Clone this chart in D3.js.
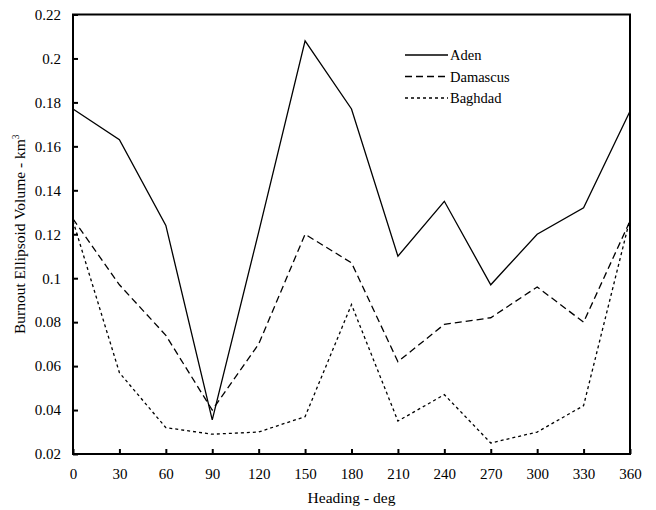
<!DOCTYPE html>
<html>
<head>
<meta charset="utf-8">
<script src="https://cdn.jsdelivr.net/npm/d3@7"></script>
<style>
  body { margin: 0; background: #fff; }
  svg text { font-family: "Liberation Serif", "DejaVu Serif", serif; fill: #000; }
</style>
</head>
<body>
<div id="chart-container"></div>
<script>
// Data
const headings = [0, 30, 60, 90, 120, 150, 180, 210, 240, 270, 300, 330, 360];
const aden     = [0.177, 0.163, 0.124, 0.0355, 0.121, 0.208, 0.177, 0.110, 0.135, 0.097, 0.120, 0.132, 0.176];
const damascus = [0.127, 0.097, 0.074, 0.040, 0.070, 0.120, 0.107, 0.062, 0.079, 0.082, 0.096, 0.080, 0.126];
const baghdad  = [0.126, 0.057, 0.032, 0.029, 0.030, 0.037, 0.088, 0.035, 0.047, 0.025, 0.030, 0.042, 0.127];
const xTicks = [0, 30, 60, 90, 120, 150, 180, 210, 240, 270, 300, 330, 360];
const yTicks = [0.02, 0.04, 0.06, 0.08, 0.1, 0.12, 0.14, 0.16, 0.18, 0.2, 0.22];
const seriesNames = ["Aden", "Damascus", "Baghdad"];

const W = 656, H = 510;
const margin = {top: 14.5, right: 26, bottom: 56, left: 73};
const width = W - margin.left - margin.right;
const height = H - margin.top - margin.bottom;

const svg = d3.select("#chart-container")
  .append("svg")
    .attr("width", W)
    .attr("height", H)
  .append("g")
    .attr("transform", `translate(${margin.left},${margin.top})`);

const x = d3.scaleLinear().domain([0, 360]).range([0, width]);
const y = d3.scaleLinear().domain([0.02, 0.22]).range([height, 0]);

// dash style for each series
const dashes = { "Aden": null, "Damascus": "7,4", "Baghdad": "3,3" };
const series = [
  {name: "Aden", values: aden},
  {name: "Damascus", values: damascus},
  {name: "Baghdad", values: baghdad}
];

const line = d3.line()
  .x((d, i) => x(headings[i]))
  .y(d => y(d));

series.forEach(s => {
  svg.append("path")
    .datum(s.values)
    .attr("fill", "none")
    .attr("stroke", "#000")
    .attr("stroke-width", 1.3)
    .attr("stroke-dasharray", dashes[s.name])
    .attr("d", line);
});

// frame
svg.append("rect")
  .attr("x", 0).attr("y", 0)
  .attr("width", width).attr("height", height)
  .attr("fill", "none")
  .attr("stroke", "#000")
  .attr("stroke-width", 2);

// axes with inward ticks
const xAxis = svg.append("g")
  .attr("transform", `translate(0,${height})`)
  .call(d3.axisBottom(x).tickValues(xTicks).tickSize(-5).tickPadding(14).tickFormat(d3.format("d")));
const yAxis = svg.append("g")
  .call(d3.axisLeft(y).tickValues(yTicks).tickSize(-5).tickPadding(12).tickFormat(d => String(+d.toFixed(2))));

[xAxis, yAxis].forEach(a => {
  a.select(".domain").remove();
  a.selectAll(".tick line").attr("stroke", "#000").attr("stroke-width", 2);
  a.selectAll(".tick text").attr("font-size", 15).attr("font-family", "Liberation Serif");
});

// axis titles
svg.append("text")
  .attr("text-anchor", "middle")
  .attr("x", width / 2)
  .attr("y", height + 49)
  .attr("font-size", 15.5)
  .text("Heading - deg");

const yTitle = svg.append("text")
  .attr("text-anchor", "middle")
  .attr("transform", `translate(${25 - margin.left},${height / 2}) rotate(-90)`)
  .attr("font-size", 15.5);
yTitle.append("tspan").text("Burnout Ellipsoid Volume - km");
yTitle.append("tspan").attr("font-size", 9.5).attr("dy", -6).text("3");

// legend
const legend = svg.append("g")
  .attr("transform", `translate(${405 - margin.left},${55 - margin.top})`);
series.forEach((s, i) => {
  const g = legend.append("g").attr("transform", `translate(0,${i * 21.5})`);
  g.append("line")
    .attr("x1", 0).attr("x2", 43)
    .attr("y1", 0).attr("y2", 0)
    .attr("stroke", "#000")
    .attr("stroke-width", 1.3)
    .attr("stroke-dasharray", dashes[s.name]);
  g.append("text")
    .attr("x", 45)
    .attr("y", 5)
    .attr("font-size", 14.5)
    .text(seriesNames[i]);
});
</script>
</body>
</html>
